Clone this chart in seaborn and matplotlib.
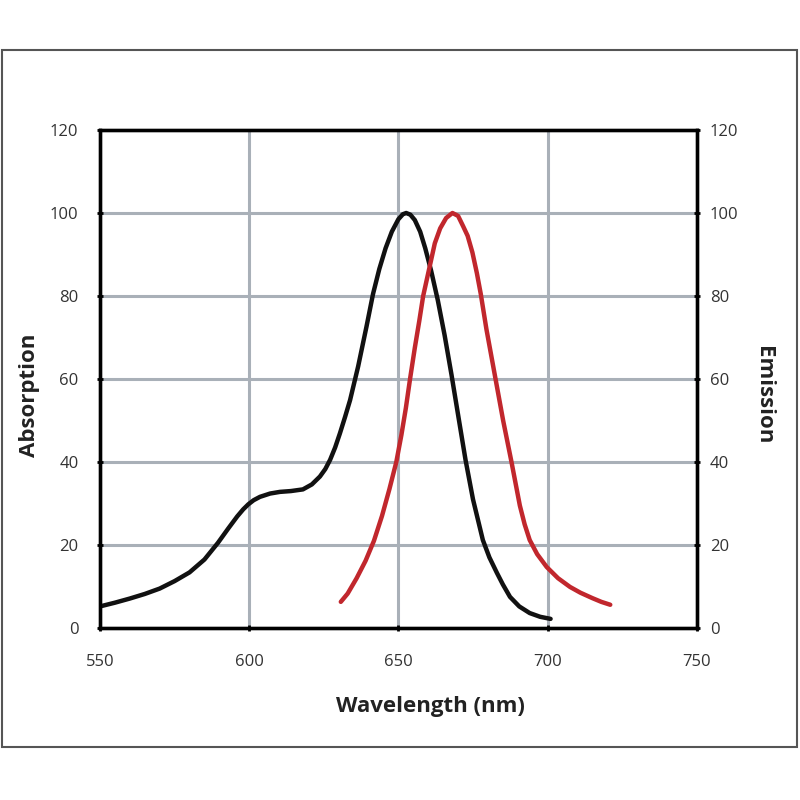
import pandas as pd
import matplotlib.pyplot as plt
import matplotlib.patches as patches
import seaborn as sns

sns.set_theme(style="white")
plt.rcParams['font.family'] = ['Open Sans', 'DejaVu Sans']

# -------------------------------
# Spectra
# -------------------------------
abs_wl = [550, 555, 560, 565, 570, 575, 580, 585, 589.5, 593, 596, 598, 599.7,
          601.5, 603.6, 607, 610.3, 614, 618, 621, 623.7, 625.5, 627.1, 628.8,
          630.4, 632.1, 633.8, 636.5, 639.3, 641.5, 643.6, 645.7, 647.8, 650,
          651.5, 652.6, 654, 655.5, 657.3, 659, 661, 663.2, 665.5, 667.8,
          670.2, 672.5, 675, 678.3, 680.5, 683, 685, 687.4, 690.5, 694, 697.5,
          701]
abs_val = [5.2, 6.1, 7.1, 8.2, 9.5, 11.3, 13.4, 16.5, 20.5, 24, 26.9, 28.6, 29.8,
           30.8, 31.6, 32.4, 32.8, 33.0, 33.4, 34.6, 36.5, 38.3, 40.5, 43.5,
           46.9, 50.8, 54.9, 63, 72.6, 80.5, 86.5, 91.5, 95.5, 98.5,
           99.7, 100, 99.6, 98.3, 95.5, 91.5, 86, 79, 70.5, 61,
           50.5, 40.5, 31, 21.2, 17, 13.3, 10.5, 7.5, 5.2, 3.6, 2.7,
           2.2]

em_wl = [630.7, 633, 636, 639, 641.8, 644.5, 647, 649.3, 651, 652.5, 653.9,
         655.5, 657, 658.3, 660.3, 662.2, 664, 666, 668.1, 670, 671.7, 673.2,
         674.8, 676.3, 677.6, 679.5, 682.3, 685.1, 687.9, 690.7, 692.3, 694,
         696.5, 699.7, 703.5, 707.5, 711, 715, 718, 721]
em_val = [6.3, 8.3, 12, 16.2, 21, 27, 33.5, 40, 46.5, 53, 60,
          67.5, 74, 80, 86.5, 92.7, 96.3, 98.8, 100, 99.3, 96.8, 94.5,
          90.5, 85.5, 80.5, 72, 61, 50, 40, 29.5, 25, 21.2,
          17.8, 14.7, 12, 9.9, 8.5, 7.2, 6.3, 5.6]

x_ticks = [550, 600, 650, 700, 750]
y_ticks = [0, 20, 40, 60, 80, 100, 120]

absorption = pd.DataFrame({"wavelength": abs_wl, "value": abs_val})
emission = pd.DataFrame({"wavelength": em_wl, "value": em_val})

# -------------------------------
# Figure
# -------------------------------
fig = plt.figure(figsize=(8, 8), dpi=100)
fig.patches.append(patches.Rectangle((0.003, 0.066), 0.993, 0.8715,
                                     transform=fig.transFigure, fill=False,
                                     edgecolor="#555555", linewidth=1.5))
ax = fig.add_axes([0.125, 0.215, 0.746, 0.6225])
ax2 = ax.twinx()

grid_col = "#a9b0b8"
for v in x_ticks[1:-1]:
    ax.axvline(v, color=grid_col, linewidth=2.2, zorder=0)
for v in y_ticks[1:-1]:
    ax.axhline(v, color=grid_col, linewidth=2.2, zorder=0)

sns.lineplot(data=absorption, x="wavelength", y="value", ax=ax,
             color="#111111", linewidth=3.2, solid_capstyle="round",
             solid_joinstyle="round", zorder=3)
sns.lineplot(data=emission, x="wavelength", y="value", ax=ax2,
             color="#c1272d", linewidth=3.2, solid_capstyle="round",
             solid_joinstyle="round", zorder=3)

for a in (ax, ax2):
    a.set_xlim(550, 750)
    a.set_ylim(0, 120)
    a.set_yticks(y_ticks)
    for s in a.spines.values():
        s.set_color("black")
        s.set_linewidth(2.4)
ax.set_xticks(x_ticks)

ax.tick_params(axis="both", direction="inout", length=5, width=2,
               color="black", labelcolor="#333333", labelsize=12)
ax.tick_params(axis="y", pad=13, left=True)
ax.tick_params(axis="x", pad=16, bottom=True)
ax2.tick_params(axis="y", direction="inout", length=5, width=2, color="black",
                labelcolor="#333333", labelsize=12, pad=7, right=True)

ax.set_xlabel("Wavelength (nm)", fontsize=16, fontweight="bold", color="#222222")
ax.set_ylabel("Absorption", fontsize=16, fontweight="bold", color="#222222")
ax2.set_ylabel("Emission", fontsize=16, fontweight="bold", color="#222222",
               rotation=270)
ax.xaxis.set_label_coords(0.553, -0.137)
ax.yaxis.set_label_coords(-0.1, 0.468)
ax2.yaxis.set_label_coords(1.13, 0.468)

plt.savefig("out.png", dpi=100)
